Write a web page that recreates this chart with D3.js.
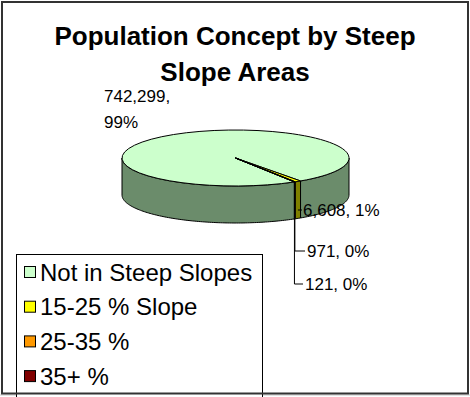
<!DOCTYPE html>
<html>
<head>
<meta charset="utf-8">
<script src="https://cdn.jsdelivr.net/npm/d3@7"></script>
<style>
  html, body { margin: 0; padding: 0; background: #fff; }
  svg { display: block; font-family: "Liberation Sans", Arial, sans-serif; }
</style>
</head>
<body>
<svg id="chart" width="470" height="397"></svg>
<script>
// Population by slope class
const categories = ["Not in Steep Slopes", "15-25 % Slope", "25-35 %", "35+ %"];
const values = [742299, 6608, 971, 121];
const topColors = ["#CCFFCC", "#FFFF00", "#FF9900", "#800000"];
const sideColors = ["#6B8C6B", "#808000", "#804C00", "#400000"];
const titleLines = ["Population Concept by Steep", "Slope Areas"];

const W = 470, H = 397;
const svg = d3.select("#chart");

// outer chart frame
svg.append("rect").attr("x", 0).attr("y", 0).attr("width", W).attr("height", H).attr("fill", "#fff");
svg.append("line").attr("x1", 0).attr("x2", W).attr("y1", 395).attr("y2", 395)
  .attr("stroke", "#c8c8c8").attr("stroke-width", 1);

// title
svg.append("g").selectAll("text").data(titleLines).join("text")
  .attr("x", 235).attr("y", (d, i) => 45 + i * 36)
  .attr("text-anchor", "middle")
  .attr("font-weight", "bold").attr("font-size", 26)
  .attr("fill", "#000")
  .text(d => d);

// 3D pie geometry
const cx = 235.5, cy = 158, rx = 113.5, ry = 28, depth = 37;
const rotation = 148.74 * Math.PI / 180; // where the first slice ends, clockwise from 12 o'clock

const pie = d3.pie().sort(null).value(d => d)
  .startAngle(rotation - 2 * Math.PI).endAngle(rotation);
const arcs = pie(values);

// pie angle (from 12 o'clock, clockwise) -> ellipse parameter
const ex = t => cx + rx * Math.cos(t);
const ey = t => cy + ry * Math.sin(t);

function wallPath(lo, hi) {
  const n = Math.max(2, Math.ceil((hi - lo) / 0.02));
  const pts = d3.range(n + 1).map(i => lo + (hi - lo) * i / n);
  let p = "M" + pts.map(t => [ex(t), ey(t)].join(",")).join("L");
  p += "L" + pts.slice().reverse().map(t => [ex(t), ey(t) + depth].join(",")).join("L");
  return p + "Z";
}

// side walls: only the front half of the rim is visible
const walls = [];
arcs.forEach((a, i) => {
  const t0 = a.startAngle - Math.PI / 2, t1 = a.endAngle - Math.PI / 2;
  for (let k = -2; k <= 2; k++) {
    const lo = Math.max(t0, 2 * Math.PI * k), hi = Math.min(t1, 2 * Math.PI * k + Math.PI);
    if (hi > lo) walls.push({ i, lo, hi });
  }
});
svg.append("g").selectAll("path").data(walls).join("path")
  .attr("d", d => wallPath(d.lo, d.hi))
  .attr("fill", d => sideColors[d.i])
  .attr("stroke", "#000").attr("stroke-width", 1).attr("stroke-linejoin", "round");

// top faces
const arc = d3.arc().innerRadius(0).outerRadius(rx);
svg.append("g")
  .attr("transform", `translate(${cx},${cy}) scale(1,${ry / rx})`)
  .selectAll("path").data(arcs).join("path")
  .attr("d", arc)
  .attr("fill", (d, i) => topColors[i])
  .attr("stroke", "#000").attr("stroke-width", 1)
  .attr("vector-effect", "non-scaling-stroke")
  .attr("stroke-linejoin", "round");

// data labels
const total = d3.sum(values);
const fmt = d3.format(",");
const pct = v => Math.round(v / total * 100) + "%";
const labelFont = 17;

// big slice: two lines, upper left
svg.append("text").attr("x", 104).attr("y", 102).attr("font-size", labelFont)
  .text(fmt(values[0]) + ",");
svg.append("text").attr("x", 104).attr("y", 128).attr("font-size", labelFont)
  .text(pct(values[0]));

// small slices: labels below the rim with leader lines
const labelPos = [null, { x: 303, y: 210 }, { x: 307, y: 251 }, { x: 305, y: 284 }];
arcs.forEach((a, i) => {
  if (!labelPos[i]) return;
  const t = (a.startAngle + a.endAngle) / 2 - Math.PI / 2;
  const lp = labelPos[i];
  const x0 = ex(t);
  const yb = ey(t) + depth;
  let pts;
  if (lp.y <= yb) pts = [[x0, lp.y], [lp.x - 1, lp.y]];
  else pts = [[x0, yb], [x0, lp.y], [lp.x - 2, lp.y]];
  svg.append("path").attr("d", d3.line()(pts))
    .attr("fill", "none").attr("stroke", "#000").attr("stroke-width", 1);
  svg.append("text").attr("x", lp.x).attr("y", lp.y)
    .attr("dy", "0.35em").attr("font-size", labelFont)
    .text(fmt(values[i]) + ", " + pct(values[i]));
});

// legend
const lg = svg.append("g");
lg.append("rect").attr("x", 16.5).attr("y", 254.5).attr("width", 246).attr("height", 150)
  .attr("fill", "#fff").attr("stroke", "#000").attr("stroke-width", 1);
const rowY = i => 272 + i * 34.7;
lg.selectAll("rect.sw").data(categories).join("rect").attr("class", "sw")
  .attr("x", 24.5).attr("y", (d, i) => rowY(i) - 5.5)
  .attr("width", 11).attr("height", 11)
  .attr("fill", (d, i) => topColors[i]).attr("stroke", "#000").attr("stroke-width", 1);
lg.selectAll("text").data(categories).join("text")
  .attr("x", 40).attr("y", (d, i) => rowY(i)).attr("dy", "0.36em")
  .attr("font-size", 24).text(d => d);

// chart border drawn last so it frames everything
svg.append("rect").attr("x", 2).attr("y", 2).attr("width", 466).attr("height", 391.5)
  .attr("fill", "none").attr("stroke", "#333").attr("stroke-width", 2);
</script>
</body>
</html>
